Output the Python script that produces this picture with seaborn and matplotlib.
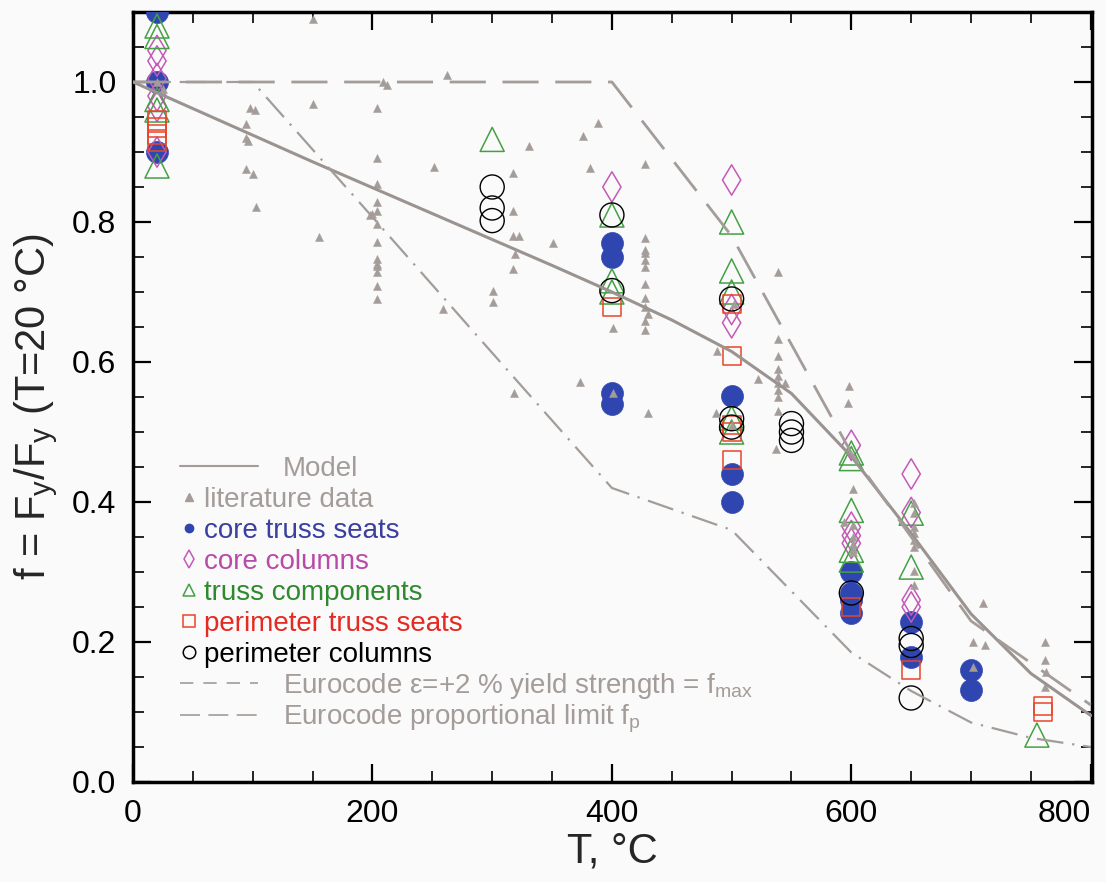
import numpy as np
import pandas as pd
import matplotlib
matplotlib.use('Agg')
import matplotlib.pyplot as plt
from matplotlib.lines import Line2D
from matplotlib.ticker import MultipleLocator
import seaborn as sns

# --- curves ---
model_T = [0, 50, 100, 150, 200, 250, 300, 350, 400, 450, 500, 550, 600, 650, 700, 750, 800]
model_f = [1.0, 0.962, 0.924, 0.886, 0.849, 0.812, 0.775, 0.738, 0.700, 0.660, 0.615, 0.555, 0.465, 0.355, 0.240, 0.155, 0.095]

ec_max_T = [0, 400, 500, 600, 700, 800]
ec_max_f = [1.0, 1.0, 0.78, 0.47, 0.23, 0.11]

ec_p_T = [0, 100, 200, 300, 400, 500, 600, 650, 700, 750, 800]
ec_p_f = [1.0, 1.0, 0.807, 0.613, 0.42, 0.36, 0.185, 0.13, 0.085, 0.063, 0.05]

# --- literature data (small grey triangles) ---
lit_T = [20, 25, 150, 209, 212, 262, 98, 102, 150, 204, 94, 94, 96, 204, 94, 100, 251, 204, 103,
         204, 204, 200, 198, 204, 155, 204, 204, 204, 204, 204, 204, 204,
         317, 331, 388, 376, 382, 428, 317, 317, 322, 319, 317, 351, 301, 301, 259,
         428, 428, 428, 428, 428, 428, 428, 428, 430, 428, 428, 401, 373, 318, 401, 430,
         539, 539, 539, 539, 539, 539, 539, 539, 539, 545, 522, 488, 487, 502, 500, 537,
         598, 597, 601, 594, 601, 601, 601, 601, 601,
         652, 652, 652, 652, 652, 652, 652, 652, 710, 702, 712, 702, 762, 762, 763, 762]
lit_f = [1.0, 0.99, 1.09, 1.0, 0.995, 1.01, 0.963, 0.96, 0.969, 0.963, 0.94, 0.92, 0.915, 0.892, 0.875, 0.868, 0.878, 0.854, 0.822,
         0.828, 0.815, 0.812, 0.81, 0.797, 0.778, 0.771, 0.747, 0.74, 0.737, 0.728, 0.708, 0.69,
         0.87, 0.909, 0.941, 0.923, 0.877, 0.883, 0.816, 0.78, 0.78, 0.754, 0.733, 0.77, 0.702, 0.685, 0.676,
         0.777, 0.76, 0.755, 0.745, 0.735, 0.712, 0.692, 0.678, 0.669, 0.659, 0.645, 0.649, 0.571, 0.555, 0.555, 0.527,
         0.728, 0.633, 0.609, 0.59, 0.58, 0.57, 0.56, 0.55, 0.53, 0.57, 0.576, 0.616, 0.527, 0.683, 0.51, 0.475,
         0.566, 0.542, 0.419, 0.371, 0.367, 0.35, 0.34, 0.333, 0.328,
         0.398, 0.384, 0.364, 0.355, 0.345, 0.335, 0.302, 0.281, 0.255, 0.2, 0.195, 0.164, 0.2, 0.174, 0.157, 0.136]

# --- NIST-type measurements ---
core_seat_T = [20, 20, 20, 400, 400, 400, 400, 500, 500, 500, 600, 600, 600, 600, 650, 650, 700, 700]
core_seat_f = [1.10, 1.0, 0.90, 0.77, 0.75, 0.555, 0.54, 0.552, 0.44, 0.40, 0.30, 0.27, 0.26, 0.241, 0.228, 0.178, 0.16, 0.131]

core_col_T = [20, 20, 20, 20, 20, 20, 400, 500, 500, 500, 600, 600, 600, 600, 650, 650, 650, 650]
core_col_f = [1.045, 1.03, 1.005, 0.98, 0.965, 0.90, 0.85, 0.86, 0.675, 0.656, 0.481, 0.364, 0.352, 0.341, 0.44, 0.385, 0.26, 0.25]

truss_T = [20, 20, 20, 20, 20, 300, 400, 400, 400, 500, 500, 500, 500, 500, 600, 600, 600, 600, 600, 650, 650, 755]
truss_f = [1.08, 1.065, 0.975, 0.96, 0.88, 0.918, 0.81, 0.716, 0.70, 0.80, 0.73, 0.70, 0.52, 0.50, 0.47, 0.462, 0.388, 0.331, 0.317, 0.384, 0.307, 0.067]

perim_seat_T = [20, 20, 20, 20, 400, 500, 500, 500, 500, 500, 600, 650, 760, 760]
perim_seat_f = [0.945, 0.935, 0.925, 0.915, 0.678, 0.683, 0.609, 0.51, 0.50, 0.46, 0.25, 0.16, 0.108, 0.10]

perim_col_T = [300, 300, 300, 400, 400, 500, 500, 500, 550, 550, 550, 600, 650, 650, 650]
perim_col_f = [0.85, 0.82, 0.802, 0.81, 0.702, 0.69, 0.519, 0.507, 0.512, 0.50, 0.488, 0.27, 0.205, 0.195, 0.12]

x_ticks = [0, 200, 400, 600, 800]

grey = '#a39c98'
blue = '#2f45b0'
magenta = '#c45ab8'
green = '#45a045'
red = '#e8452c'

sns.set_style('ticks')
plt.rcParams['font.family'] = ['Liberation Sans', 'DejaVu Sans']
plt.rcParams['mathtext.fontset'] = 'custom'
plt.rcParams['mathtext.rm'] = 'Liberation Sans'

fig = plt.figure(figsize=(11.06, 8.82), dpi=100, facecolor='#fafafa')
ax = fig.add_axes([0.1203, 0.1134, 0.8670, 0.8730])
ax.set_facecolor('#fafafa')

sns.scatterplot(x=core_seat_T, y=core_seat_f, marker='o', s=250, color=blue, edgecolor=blue,
                linewidth=0.5, ax=ax, zorder=3)
sns.scatterplot(x=core_col_T, y=core_col_f, marker='d', s=240, facecolor='none', edgecolor=magenta,
                linewidth=1.1, ax=ax, zorder=3)
sns.scatterplot(x=truss_T, y=truss_f, marker='^', s=300, facecolor='none', edgecolor=green,
                linewidth=1.1, ax=ax, zorder=3)
sns.scatterplot(x=perim_seat_T, y=perim_seat_f, marker='s', s=170, facecolor='none', edgecolor=red,
                linewidth=1.1, ax=ax, zorder=3)
sns.scatterplot(x=perim_col_T, y=perim_col_f, marker='o', s=300, facecolor='none', edgecolor='black',
                linewidth=1.0, ax=ax, zorder=3)
sns.scatterplot(x=lit_T, y=lit_f, marker='^', s=34, color=grey, edgecolor=grey, linewidth=0.3,
                ax=ax, zorder=4)

sns.lineplot(x=model_T, y=model_f, color='#9a938f', lw=2.2, ax=ax, zorder=5)
sns.lineplot(x=ec_max_T, y=ec_max_f, color=grey, lw=2, ax=ax, zorder=5,
             linestyle=(0, (13, 6)))
sns.lineplot(x=ec_p_T, y=ec_p_f, color=grey, lw=1.6, ax=ax, zorder=5,
             linestyle=(0, (12, 4, 1, 4)))

ax.set_xlim(0, 801)
ax.set_ylim(0, 1.1)
ax.set_xticks(x_ticks)
ax.xaxis.set_minor_locator(MultipleLocator(50))
ax.yaxis.set_major_locator(MultipleLocator(0.2))
ax.yaxis.set_minor_locator(MultipleLocator(0.05))
ax.yaxis.set_major_formatter(plt.FormatStrFormatter('%.1f'))
ax.tick_params(which='both', direction='in', top=True, right=True, colors='black')
ax.tick_params(which='major', length=13, width=1.6, labelsize=23, pad=12)
ax.tick_params(which='minor', length=8, width=1.2)
for sp in ax.spines.values():
    sp.set_linewidth(2.5)
    sp.set_color('black')
# last x label kept inside the figure
ax.xaxis.get_major_ticks()[-1].label1.set_horizontalalignment('right')

ax.set_xlabel('T, °C', fontsize=30, labelpad=2)
ax.set_ylabel(r'f = F$_\mathregular{y}$/F$_\mathregular{y}$ (T=20 °C)', fontsize=30)
ax.yaxis.set_label_coords(-0.076, 0.487)

# legends: model line, symbols, Eurocode lines
h_model = [Line2D([], [], color=grey, lw=1.5)]
leg1 = ax.legend(h_model, ['Model'], loc='upper left', bbox_to_anchor=(0.163, 0.483),
                 bbox_transform=fig.transFigure, frameon=False, fontsize=20, borderpad=0,
                 borderaxespad=0, handlelength=2.8, handletextpad=0.9)
leg1.get_texts()[0].set_color(grey)
ax.add_artist(leg1)

sym_handles = [
    Line2D([], [], ls='none', marker='^', ms=6, color=grey),
    Line2D([], [], ls='none', marker='o', ms=6, color=blue),
    Line2D([], [], ls='none', marker='d', ms=9, mfc='none', mec=magenta, mew=1.1),
    Line2D([], [], ls='none', marker='^', ms=8, mfc='none', mec=green, mew=1.1),
    Line2D([], [], ls='none', marker='s', ms=8, mfc='none', mec=red, mew=1.1),
    Line2D([], [], ls='none', marker='o', ms=9, mfc='none', mec='black', mew=1.1),
]
sym_labels = ['literature data', 'core truss seats', 'core columns', 'truss components',
              'perimeter truss seats', 'perimeter columns']
sym_colors = [grey, '#3a3fa0', '#b84aa8', '#2f8a2f', '#e42a22', 'black']
leg2 = ax.legend(sym_handles, sym_labels, loc='upper left', bbox_to_anchor=(0.163, 0.448),
                 bbox_transform=fig.transFigure, frameon=False, fontsize=20, borderpad=0,
                 borderaxespad=0, handlelength=0.6, handletextpad=0.25, labelspacing=0.18)
for t, c in zip(leg2.get_texts(), sym_colors):
    t.set_color(c)
ax.add_artist(leg2)

ec_handles = [Line2D([], [], color=grey, lw=1.2, ls=(0, (8, 6))),
              Line2D([], [], color=grey, lw=1.2, ls=(0, (12, 5)))]
ec_labels = [r'Eurocode ε=+2 % yield strength = f$_\mathregular{max}$',
             r'Eurocode proportional limit f$_\mathregular{p}$']
leg3 = ax.legend(ec_handles, ec_labels, loc='upper left', bbox_to_anchor=(0.163, 0.239),
                 bbox_transform=fig.transFigure, frameon=False, fontsize=20, borderpad=0,
                 borderaxespad=0, handlelength=2.8, handletextpad=0.9, labelspacing=0.05)
for t in leg3.get_texts():
    t.set_color(grey)

fig.savefig('out.png', dpi=100, facecolor=fig.get_facecolor())
